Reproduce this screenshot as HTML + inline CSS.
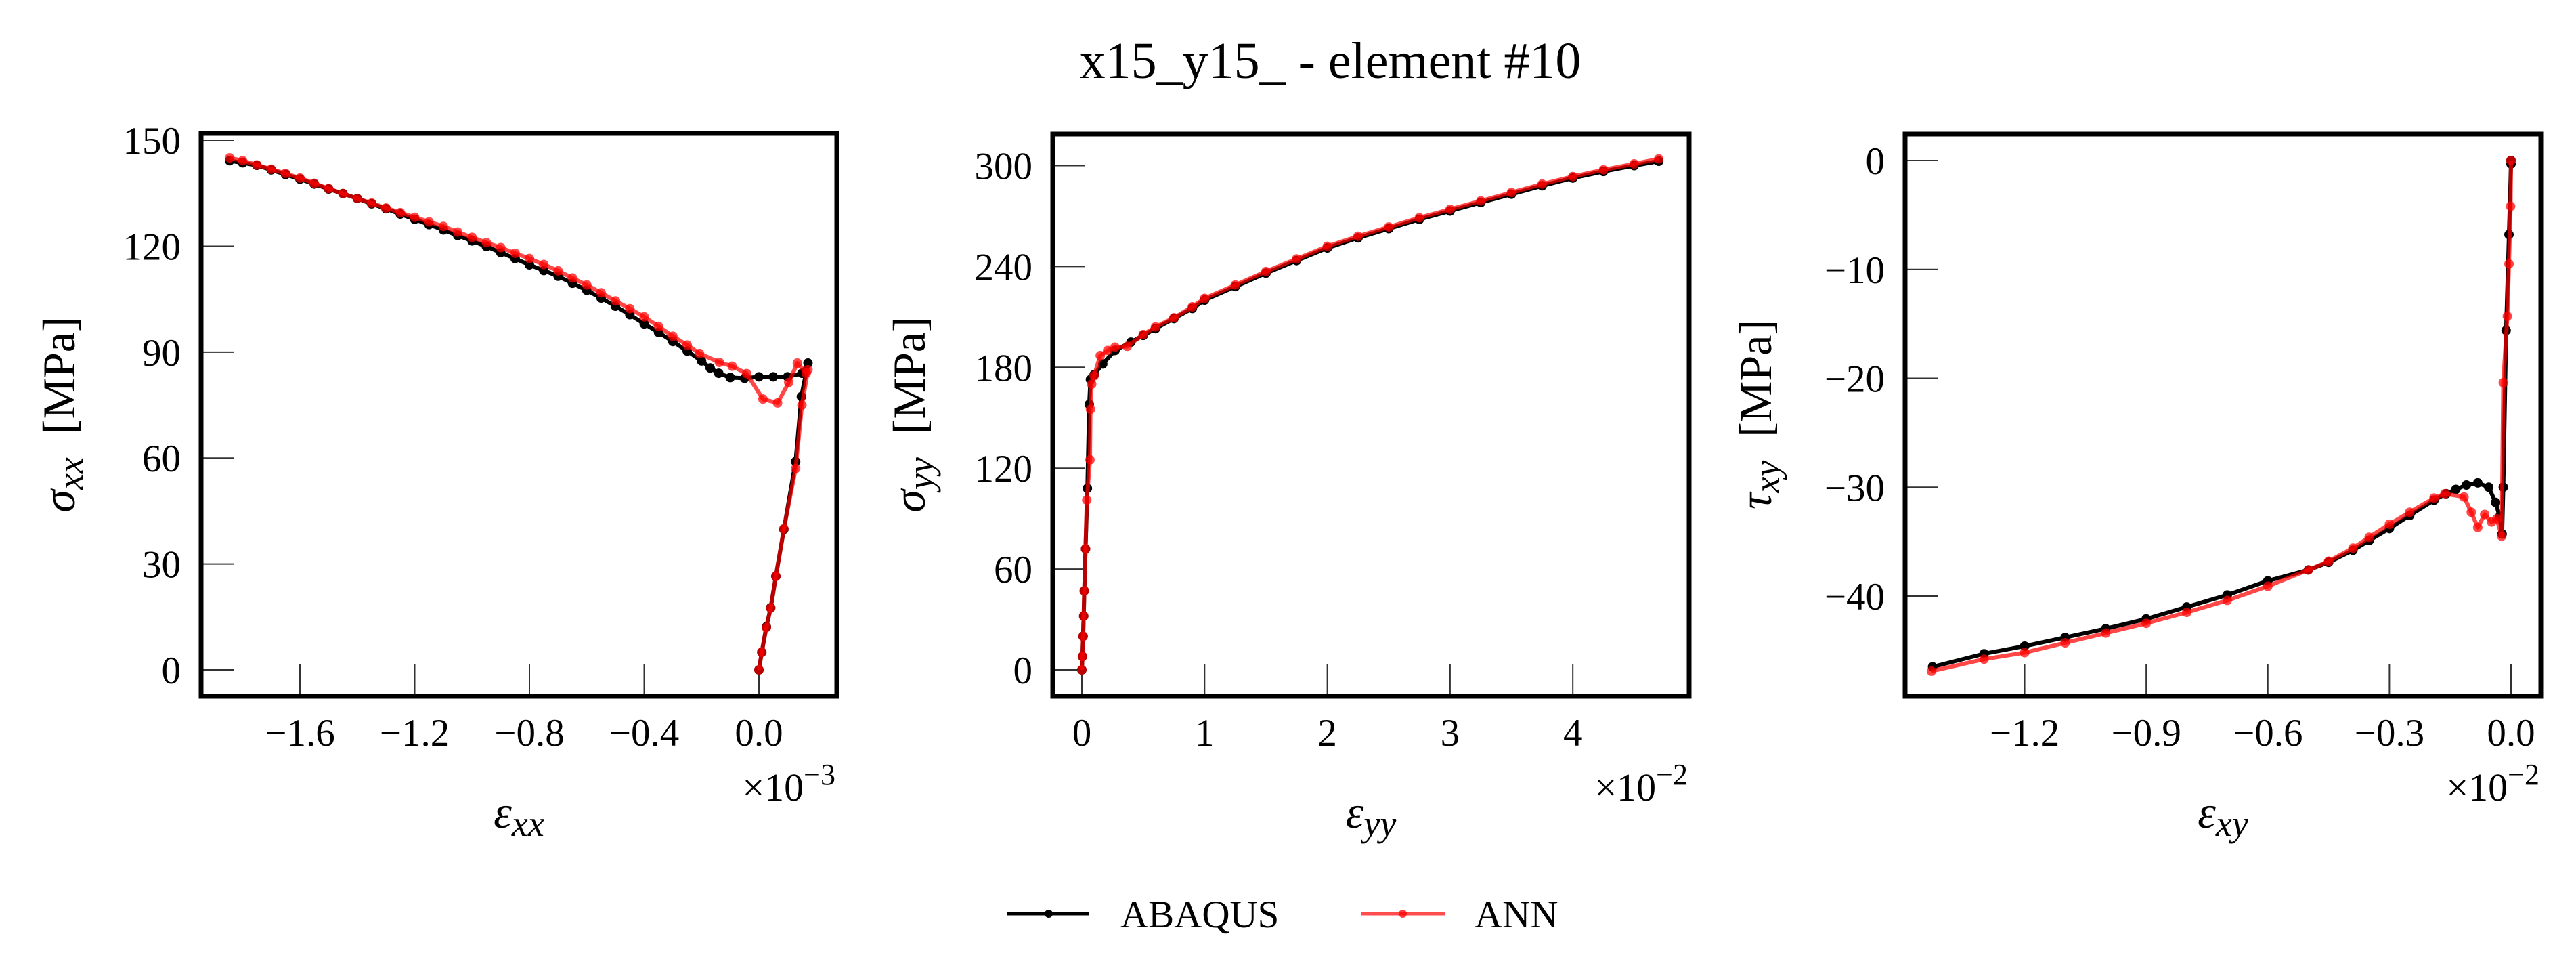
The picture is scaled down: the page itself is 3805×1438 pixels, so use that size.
<!DOCTYPE html>
<html><head><meta charset="utf-8"><style>
html,body{margin:0;padding:0;background:#fff;}
svg{display:block;font-family:"Liberation Serif",serif;}
</style></head>
<body>
<svg id="chart" xmlns="http://www.w3.org/2000/svg" width="3805" height="1438" viewBox="0 0 3805 1438">
<rect width="3805" height="1438" fill="#fff"/>
<text x="1965" y="115" font-size="76" text-anchor="middle">x15_y15_ - element #10</text>
<g id="panels"></g>
<g>
 <g>
  <line x1="1488" y1="1349" x2="1609" y2="1349" stroke="#000" stroke-width="5"/>
  <circle cx="1549" cy="1349" r="6" fill="#000"/>
  <text x="1655" y="1369" font-size="57">ABAQUS</text>
 </g>
 <g>
  <line x1="2011" y1="1349" x2="2134" y2="1349" stroke="rgba(255,0,0,0.7)" stroke-width="5"/>
  <circle cx="2072" cy="1349" r="6" fill="rgba(255,0,0,0.75)"/>
  <text x="2178" y="1369" font-size="57">ANN</text>
 </g>
</g>
</svg>
<script>
// Panel 1: eps_xx (x1e-3) vs sigma_xx
const p1X_abaqus = [0,0.01,0.026,0.041,0.059,0.087,0.128,0.148,0.171,0.15,0.1,0.05,0,-0.05,-0.1,-0.14,-0.17,-0.2,-0.25,-0.3,-0.35,-0.4,-0.45,-0.5,-0.55,-0.6,-0.65,-0.7,-0.75,-0.8,-0.85,-0.9,-0.95,-1.0,-1.05,-1.1,-1.15,-1.2,-1.25,-1.3,-1.35,-1.4,-1.45,-1.5,-1.55,-1.6,-1.65,-1.7,-1.75,-1.8,-1.845];
const p1Y_abaqus = [0,5,12.2,17.6,26.5,39.8,59,77.4,86.9,84,83,83,83,82.6,82.8,84,85.5,87.5,90.3,93,95.6,98,100.6,103,105.3,107.5,109.5,111.5,113.1,114.7,116.5,118.2,119.9,121.5,123,124.6,126.1,127.6,129.1,130.6,132,133.5,134.9,136.2,137.6,139,140.3,141.6,142.9,143.6,144.2];
const p1X_ann = [0,0.01,0.026,0.041,0.059,0.087,0.128,0.15,0.171,0.165,0.134,0.104,0.065,0.014,-0.043,-0.093,-0.138,-0.207,-0.25,-0.3,-0.35,-0.4,-0.45,-0.5,-0.55,-0.6,-0.65,-0.7,-0.75,-0.8,-0.85,-0.9,-0.95,-1.0,-1.05,-1.1,-1.15,-1.2,-1.25,-1.3,-1.35,-1.4,-1.45,-1.5,-1.55,-1.6,-1.65,-1.7,-1.75,-1.8,-1.845];
const p1Y_ann = [0,5,12,17.5,26.5,40,57,75,85,84,86.9,81.4,75.6,76.7,83.9,86,87.1,89.6,92,94.5,97.3,100,102.3,104.5,106.8,109,111,113,114.8,116.5,118,119.6,121,122.5,124,125.6,126.9,128.2,129.5,130.8,132.2,133.5,134.9,136.3,137.8,139.3,140.6,141.8,143,144.2,145];
const p1XTicks = [-1.6,-1.2,-0.8,-0.4,0.0];
const p1XTickLabels = ["\u22121.6","\u22121.2","\u22120.8","\u22120.4","0.0"];
const p1YTicks = [0,30,60,90,120,150];

// Panel 2: eps_yy (x1e-2) vs sigma_yy
const p2X_abaqus = [0,0.005,0.01,0.015,0.02,0.03,0.045,0.06,0.07,0.1,0.17,0.27,0.4,0.5,0.6,0.75,0.9,1,1.25,1.5,1.75,2,2.25,2.5,2.75,3,3.25,3.5,3.75,4,4.25,4.5,4.7];
const p2Y_abaqus = [0,8,20,32,47,72,108,158,172.7,175.6,182,190,195,199,203,209,215,220,228,236,243.5,251,257,262.5,268,273,278,283,288,292.6,296.5,300,302.6];
const p2X_ann = [0,0.005,0.01,0.015,0.02,0.03,0.04,0.066,0.07,0.08,0.1,0.15,0.21,0.27,0.37,0.5,0.6,0.75,0.9,1,1.25,1.5,1.75,2,2.25,2.5,2.75,3,3.25,3.5,3.75,4,4.25,4.5,4.7];
const p2Y_ann = [0,8,20,32,47,72,101,125,155,170,175,187,190,192,192.5,199.5,204,209.5,216,221,229,237,244.5,252,258,263.5,269,274,279,284,289,293.5,297.5,301,304];
const p2XTicks = [0,1,2,3,4];
const p2XTickLabels = ["0","1","2","3","4"];
const p2YTicks = [0,60,120,180,240,300];

// Panel 3: eps_xy (x1e-2) vs tau_xy
const p3X_abaqus = [0,0,-0.005,-0.012,-0.019,-0.022,-0.028,-0.038,-0.055,-0.082,-0.11,-0.136,-0.16,-0.19,-0.25,-0.3,-0.35,-0.39,-0.45,-0.5,-0.6,-0.7,-0.8,-0.9,-1.0,-1.1,-1.2,-1.3,-1.427];
const p3Y_abaqus = [0,-0.3,-6.8,-15.6,-30,-34.3,-32.7,-31.4,-30,-29.6,-29.8,-30.2,-30.6,-31.2,-32.6,-33.8,-34.9,-35.8,-36.9,-37.6,-38.6,-39.9,-41,-42.1,-43,-43.8,-44.6,-45.3,-46.5];
const p3X_ann = [0,-0.001,-0.005,-0.009,-0.019,-0.023,-0.035,-0.048,-0.065,-0.082,-0.098,-0.116,-0.163,-0.19,-0.25,-0.3,-0.35,-0.39,-0.45,-0.5,-0.6,-0.7,-0.8,-0.9,-1.0,-1.1,-1.2,-1.3,-1.43];
const p3Y_ann = [0,-4.2,-9.5,-14.3,-20.4,-34.5,-32.9,-33.2,-32.5,-33.7,-32.3,-30.9,-30.6,-31,-32.3,-33.4,-34.6,-35.6,-36.8,-37.6,-39.1,-40.4,-41.5,-42.5,-43.4,-44.3,-45.2,-45.8,-46.9];
const p3XTicks = [-1.2,-0.9,-0.6,-0.3,0.0];
const p3XTickLabels = ["\u22121.2","\u22120.9","\u22120.6","\u22120.3","0.0"];
const p3YTicks = [-40,-30,-20,-10,0];
const p3YTickLabels = ["\u221240","\u221230","\u221220","\u221210","0"];

const NS = "http://www.w3.org/2000/svg";
const root = document.getElementById('panels');
function mk(tag, attrs, parent){
  const e = document.createElementNS(NS, tag);
  for (const k in attrs) e.setAttribute(k, attrs[k]);
  parent.appendChild(e);
  return e;
}
function panel(cfg){
  const g = mk('g', {}, root);
  
  
  const sx = v => cfg.x0 + v * cfg.kx;
  const sy = v => cfg.y0 - v * cfg.ky;
  cfg.xTicks.forEach((t, i) => {
    const tk = mk('line', {x1: sx(t), x2: sx(t), y1: cfg.B, y2: cfg.B - 48, stroke: '#333', 'stroke-width': 2}, g);
    
    
    const tl = mk('text', {x: sx(t), y: 1101, 'font-size': 57, 'text-anchor': 'middle'}, g);
    tl.textContent = cfg.xLabels[i];
    
    
  });
  cfg.yTicks.forEach((t, i) => {
    const tk = mk('line', {x1: cfg.L, x2: cfg.L + 48, y1: sy(t), y2: sy(t), stroke: '#333', 'stroke-width': 2}, g);
    
    
    const tl = mk('text', {x: cfg.L - 30, y: sy(t) + 20, 'font-size': 57, 'text-anchor': 'end'}, g);
    tl.textContent = cfg.yLabels ? cfg.yLabels[i] : String(t);
    
    
  });
  cfg.series.forEach(s => {
    const sg = mk('g', {}, g);
    
    
    const pts = s.x.map((v, i) => sx(v).toFixed(1) + ',' + sy(s.y[i]).toFixed(1)).join(' ');
    const pl = mk('polyline', {points: pts, fill: 'none', stroke: s.color, 'stroke-width': 6, 'stroke-linejoin': 'round'}, sg);
    
    
    s.x.forEach((v, i) => {
      const c = mk('circle', {cx: sx(v), cy: sy(s.y[i]), r: 7, fill: s.color}, sg);
      
      
    });
  });
  const fr = mk('rect', {x: cfg.L, y: cfg.T, width: cfg.R - cfg.L, height: cfg.B - cfg.T, fill: 'none', stroke: '#000', 'stroke-width': 7}, g);
  
  
  const m = mk('text', {x: cfg.R - 2, y: 1182, 'font-size': 58, 'text-anchor': 'end'}, g);
  m.innerHTML = '\u00d710<tspan dy="-24" font-size="44">\u2212' + cfg.exp + '</tspan>';
  
  
  const xl = mk('text', {x: (cfg.L + cfg.R) / 2, y: 1222, 'font-size': 68, 'text-anchor': 'middle', 'font-style': 'italic'}, g);
  xl.innerHTML = '\u03b5<tspan dy="12" font-size="54">' + cfg.sub + '</tspan>';
  
  
  const yl = mk('text', {x: 0, y: 0, 'font-size': 68, 'text-anchor': 'middle', transform: 'translate(' + (cfg.ylx + 22) + ',612) rotate(-90)'}, g);
  yl.innerHTML = '<tspan font-style="italic">' + cfg.sym + '</tspan><tspan font-style="italic" dy="12" font-size="54">' + cfg.sub + '</tspan><tspan dy="-12">\u2002[MPa]</tspan>';
  
  
}
const RED = 'rgba(255,0,0,0.72)';
panel({name: 'panel-sigma-xx', L: 297, R: 1236, T: 197, B: 1028, x0: 1121, kx: 423.75, y0: 989, ky: 5.213,
  xTicks: p1XTicks, xLabels: p1XTickLabels, yTicks: p1YTicks, exp: '3', sub: 'xx', sym: '\u03c3', ylx: 88,
  series: [{name: 'abaqus-series', x: p1X_abaqus, y: p1Y_abaqus, color: '#000'}, {name: 'ann-series', x: p1X_ann, y: p1Y_ann, color: RED}]});
panel({name: 'panel-sigma-yy', L: 1555, R: 2495, T: 198, B: 1028, x0: 1598, kx: 181.3, y0: 989, ky: 2.4817,
  xTicks: p2XTicks, xLabels: p2XTickLabels, yTicks: p2YTicks, exp: '2', sub: 'yy', sym: '\u03c3', ylx: 1344,
  series: [{name: 'abaqus-series', x: p2X_abaqus, y: p2Y_abaqus, color: '#000'}, {name: 'ann-series', x: p2X_ann, y: p2Y_ann, color: RED}]});
panel({name: 'panel-tau-xy', L: 2814, R: 3753, T: 198, B: 1028, x0: 3709, kx: 598.7, y0: 237, ky: 16.075,
  xTicks: p3XTicks, xLabels: p3XTickLabels, yTicks: p3YTicks, yLabels: p3YTickLabels, exp: '2', sub: 'xy', sym: '\u03c4', ylx: 2594,
  series: [{name: 'abaqus-series', x: p3X_abaqus, y: p3Y_abaqus, color: '#000'}, {name: 'ann-series', x: p3X_ann, y: p3Y_ann, color: RED}]});
</script>
</body></html>
